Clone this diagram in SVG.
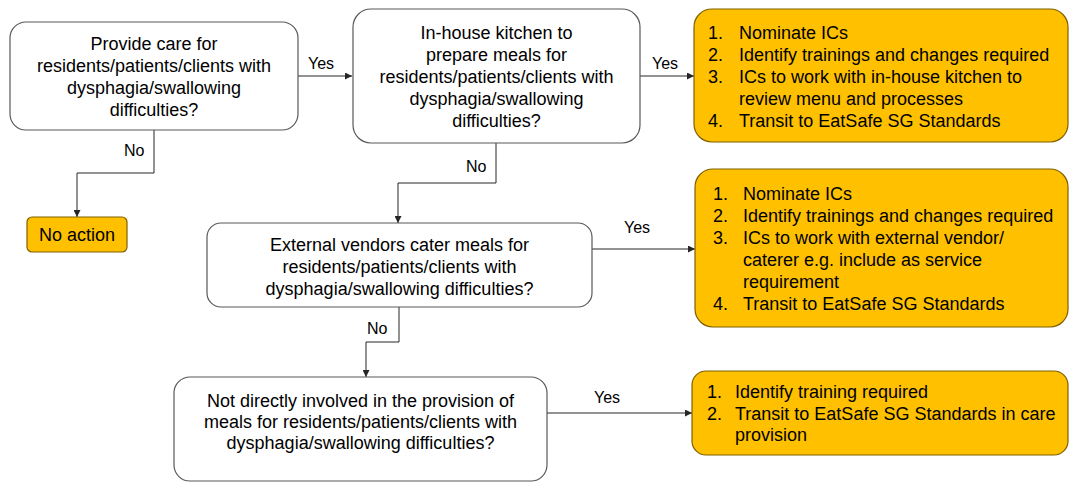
<svg xmlns="http://www.w3.org/2000/svg" width="1070" height="482" viewBox="0 0 1070 482">
<defs>
<style>
.q{fill:#ffffff;stroke:#595959;stroke-width:1.2}
.a{fill:#ffc000;stroke:#7f6000;stroke-width:1.2}
text{font-family:"Liberation Sans",Arial,sans-serif;font-size:18px;fill:#000}
.c{text-anchor:middle}
.l{font-size:16px}
.e{fill:none;stroke:#262626;stroke-width:1}
</style>
<marker id="ah" viewBox="0 0 10 10" refX="10" refY="5" markerWidth="7" markerHeight="7" markerUnits="userSpaceOnUse" orient="auto">
<path d="M0,0 L10,5 L0,10 z" fill="#262626"/>
</marker>
</defs>
<rect width="1070" height="482" fill="#ffffff"/>
<g id="connectors">
<path class="e" d="M298,76 H352" marker-end="url(#ah)"/>
<path class="e" d="M640,76 H694" marker-end="url(#ah)"/>
<path class="e" d="M154,130 V173 H77 V217" marker-end="url(#ah)"/>
<path class="e" d="M496,143 V183 H398 V223" marker-end="url(#ah)"/>
<path class="e" d="M592,249 H695" marker-end="url(#ah)"/>
<path class="e" d="M399,307 V342 H366 V377" marker-end="url(#ah)"/>
<path class="e" d="M547,413 H692" marker-end="url(#ah)"/>
<text class="l" x="308" y="69">Yes</text>
<text class="l" x="652" y="69">Yes</text>
<text class="l" x="124" y="156">No</text>
<text class="l" x="466" y="172">No</text>
<text class="l" x="624" y="233">Yes</text>
<text class="l" x="367" y="334">No</text>
<text class="l" x="594" y="403">Yes</text>
</g>
<g id="q1">
<rect class="q" x="10" y="22" width="288" height="108" rx="16"/>
<text class="c" x="154" y="50">Provide care for</text>
<text class="c" x="154" y="72">residents/patients/clients with</text>
<text class="c" x="154" y="94">dysphagia/swallowing</text>
<text class="c" x="154" y="116">difficulties?</text>
</g>
<g id="noaction">
<rect class="a" x="27" y="217" width="100" height="35" rx="5"/>
<text class="c" x="77" y="241">No action</text>
</g>
<g id="q2">
<rect class="q" x="353" y="9" width="287" height="134" rx="18"/>
<text class="c" x="496.5" y="39">In-house kitchen to</text>
<text class="c" x="496.5" y="61">prepare meals for</text>
<text class="c" x="496.5" y="83">residents/patients/clients with</text>
<text class="c" x="496.5" y="105">dysphagia/swallowing</text>
<text class="c" x="496.5" y="127">difficulties?</text>
</g>
<g id="a1">
<rect class="a" x="694" y="9" width="374" height="133" rx="18"/>
<text x="708" y="39">1.</text><text x="739" y="39">Nominate ICs</text>
<text x="708" y="61">2.</text><text x="739" y="61">Identify trainings and changes required</text>
<text x="708" y="83">3.</text><text x="739" y="83">ICs to work with in-house kitchen to</text>
<text x="739" y="105">review menu and processes</text>
<text x="708" y="127">4.</text><text x="739" y="127">Transit to EatSafe SG Standards</text>
</g>
<g id="q3">
<rect class="q" x="207" y="223" width="385" height="84" rx="14"/>
<text class="c" x="399.5" y="251">External vendors cater meals for</text>
<text class="c" x="399.5" y="273">residents/patients/clients with</text>
<text class="c" x="399.5" y="295">dysphagia/swallowing difficulties?</text>
</g>
<g id="a2">
<rect class="a" x="695" y="169" width="373" height="158" rx="18"/>
<text x="713" y="199.5">1.</text><text x="743" y="199.5">Nominate ICs</text>
<text x="713" y="221.5">2.</text><text x="743" y="221.5">Identify trainings and changes required</text>
<text x="713" y="244">3.</text><text x="743" y="244">ICs to work with external vendor/</text>
<text x="743" y="266">caterer e.g. include as service</text>
<text x="743" y="288">requirement</text>
<text x="713" y="310">4.</text><text x="743" y="310">Transit to EatSafe SG Standards</text>
</g>
<g id="q4">
<rect class="q" x="174" y="377" width="373" height="104" rx="16"/>
<text class="c" x="360.5" y="406.5">Not directly involved in the provision of</text>
<text class="c" x="360.5" y="427.5">meals for residents/patients/clients with</text>
<text class="c" x="360.5" y="448.5">dysphagia/swallowing difficulties?</text>
</g>
<g id="a3">
<rect class="a" x="692" y="371" width="376" height="84" rx="14"/>
<text x="707" y="398">1.</text><text x="735" y="398">Identify training required</text>
<text x="707" y="419.5">2.</text><text x="735" y="419.5">Transit to EatSafe SG Standards in care</text>
<text x="735" y="441">provision</text>
</g>
</svg>
